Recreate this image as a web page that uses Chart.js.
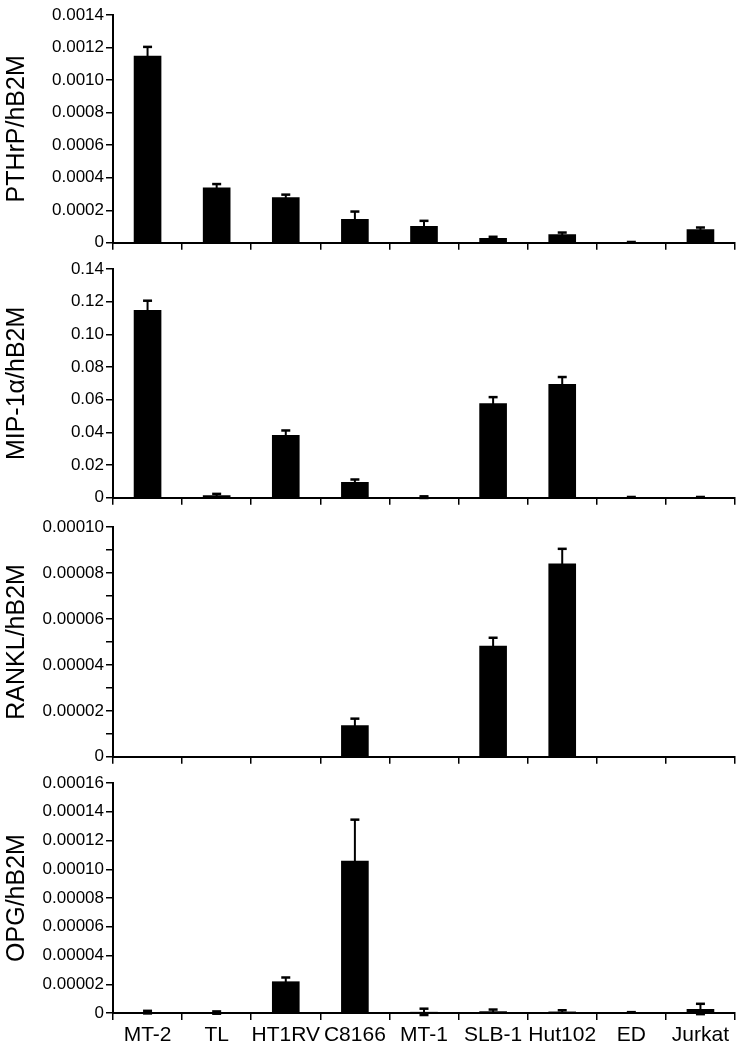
<!DOCTYPE html>
<html>
<head>
<meta charset="utf-8">
<script src="https://cdn.jsdelivr.net/npm/chart.js@4.4.1/dist/chart.umd.min.js"></script>
<style>
  html, body { margin: 0; padding: 0; background: #fff; }
  #wrap { position: relative; width: 742px; height: 1050px; }
  .panel { position: absolute; left: 0; width: 742px; }
  canvas { display: block; }
</style>
</head>
<body>
<div id="wrap">
  <div class="panel" id="p1" style="top:0px;height:255px"><canvas id="c1"></canvas></div>
  <div class="panel" id="p2" style="top:255px;height:255px"><canvas id="c2"></canvas></div>
  <div class="panel" id="p3" style="top:510px;height:259px"><canvas id="c3"></canvas></div>
  <div class="panel" id="p4" style="top:769px;height:281px"><canvas id="c4"></canvas></div>
</div>
<script>
// ---- Data ----
const categories = ['MT-2', 'TL', 'HT1RV', 'C8166', 'MT-1', 'SLB-1', 'Hut102', 'ED', 'Jurkat'];

const pthrpValues = [0.001149, 0.000340, 0.000280, 0.000147, 0.000104, 0.000029, 0.000053, 0.000003, 0.000084];
const pthrpErrors = [0.000055, 0.000021, 0.000016, 0.000045, 0.000031, 0.000008, 0.000010, 0.000002, 0.000010];

const mipValues = [0.1149, 0.0016, 0.0384, 0.0096, 0.0004, 0.0578, 0.0696, 0.0003, 0.0003];
const mipErrors = [0.0057, 0.0008, 0.0028, 0.0016, 0.0005, 0.0038, 0.0043, 0.0002, 0.0002];

const ranklValues = [0, 0, 0, 0.0000137, 0, 0.0000483, 0.0000841, 0, 0];
const ranklErrors = [0, 0, 0, 0.0000029, 0, 0.0000035, 0.0000064, 0, 0];

const opgValues = [0.0000006, 0.0000003, 0.0000220, 0.0001060, 0.0000008, 0.0000012, 0.0000010, 0.0000003, 0.0000028];
const opgErrors = [0.0000009, 0.0000008, 0.0000027, 0.0000285, 0.0000022, 0.0000012, 0.0000009, 0.0000003, 0.0000036];

const yTitles = ['PTHrP/hB2M', 'MIP-1\u03B1/hB2M', 'RANKL/hB2M', 'OPG/hB2M'];
const yMax = [0.0014, 0.14, 0.0001, 0.00016];
const yStep = [0.0002, 0.02, 0.00001, 0.00002];
const yDecimals = [4, 2, 5, 5];
const yLabelEvery = [1, 1, 2, 1];

// ---- Styling ----
const FONT = "'Liberation Sans', Arial, Helvetica, sans-serif";
const errorBarPlugin = {
  id: 'errorBars',
  afterDatasetsDraw(chart) {
    const ctx = chart.ctx;
    const ys = chart.scales.y;
    chart.data.datasets.forEach((ds, di) => {
      const meta = chart.getDatasetMeta(di);
      meta.data.forEach((bar, i) => {
        const v = ds.data[i];
        const e = ds.errors[i];
        if (!e) return;
        const x = bar.x;
        const yTop = ys.getPixelForValue(v + e);
        const yBot = ys.getPixelForValue(v - e);
        ctx.save();
        ctx.strokeStyle = '#000';
        ctx.lineWidth = 2;
        ctx.beginPath();
        ctx.moveTo(x, yBot);
        ctx.lineTo(x, yTop);
        ctx.stroke();
        ctx.lineWidth = 2.5;
        ctx.beginPath();
        ctx.moveTo(x - 4.5, yTop);
        ctx.lineTo(x + 4.5, yTop);
        ctx.stroke();
        if (v - e < 0) {
          ctx.beginPath();
          ctx.moveTo(x - 4.5, yBot);
          ctx.lineTo(x + 4.5, yBot);
          ctx.stroke();
        }
        ctx.restore();
      });
    });
  }
};

const seriesValues = [pthrpValues, mipValues, ranklValues, opgValues];
const seriesErrors = [pthrpErrors, mipErrors, ranklErrors, opgErrors];
const padTop = [15, 14, 17, 14];
const xAxisHeight = [12, 12, 12, 37];

function makeChart(idx) {
  const isLast = idx === 3;
  const step = yStep[idx];
  new Chart(document.getElementById('c' + (idx + 1)), {
    type: 'bar',
    data: {
      labels: categories,
      datasets: [{
        data: seriesValues[idx],
        errors: seriesErrors[idx],
        backgroundColor: '#000',
        borderWidth: 0,
        barPercentage: 0.4,
        categoryPercentage: 1.0
      }]
    },
    options: {
      responsive: true,
      maintainAspectRatio: false,
      animation: false,
      events: [],
      layout: { padding: { top: padTop[idx], right: 7, left: 0, bottom: 0 } },
      plugins: { legend: { display: false }, tooltip: { enabled: false } },
      scales: {
        x: {
          type: 'category',
          offset: true,
          afterFit(scale) { scale.height = xAxisHeight[idx]; },
          border: { display: true, color: '#000', width: 2 },
          grid: { display: true, offset: true, drawOnChartArea: false, drawTicks: true, tickLength: 7, color: '#000', lineWidth: 1.5 },
          ticks: {
            display: true,
            color: '#000',
            padding: 3,
            maxRotation: 0,
            autoSkip: false,
            font: { family: FONT, size: 21 },
            callback(value, index) { return isLast ? categories[index] : ''; }
          }
        },
        y: {
          min: 0,
          max: yMax[idx],
          afterFit(scale) { scale.width = 113; },
          border: { display: true, color: '#000', width: 2 },
          grid: { display: true, drawOnChartArea: false, drawTicks: true, tickLength: 7, color: '#000', lineWidth: 1.5 },
          title: {
            display: true,
            text: yTitles[idx],
            color: '#000',
            font: { family: FONT, size: 25 },
            padding: { top: 2, bottom: 0 }
          },
          ticks: {
            stepSize: step,
            color: '#000',
            padding: 2,
            font: { family: FONT, size: 17 },
            callback(value) {
              const n = Math.round(value / step);
              if (n % yLabelEvery[idx] !== 0) return '';
              if (n === 0) return '0';
              return (n * step).toFixed(yDecimals[idx]);
            }
          }
        }
      }
    },
    plugins: [errorBarPlugin]
  });
}

for (let i = 0; i < 4; i++) makeChart(i);
</script>
</body>
</html>
